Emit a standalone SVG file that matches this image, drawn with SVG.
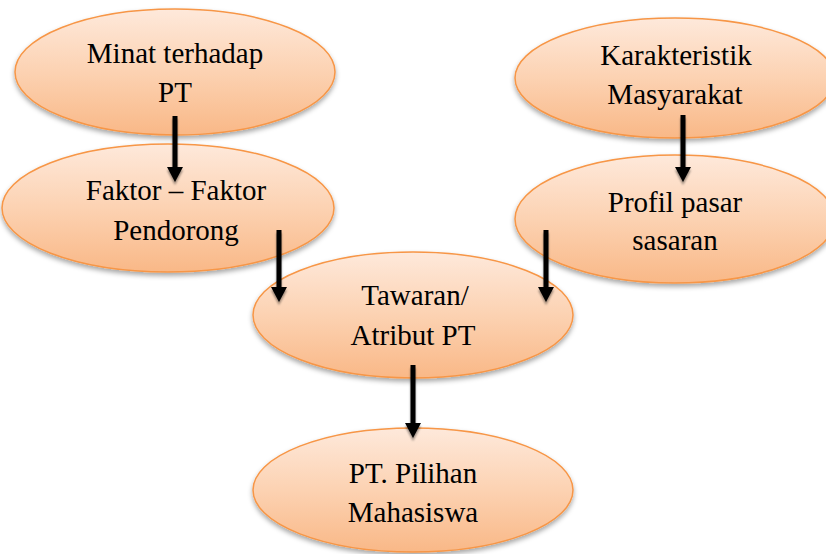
<svg xmlns="http://www.w3.org/2000/svg" width="826" height="554" viewBox="0 0 826 554">
<defs>
<linearGradient id="g" x1="0" y1="0" x2="0" y2="1">
<stop offset="0" stop-color="#fee9db"/>
<stop offset="0.5" stop-color="#fcd2b2"/>
<stop offset="1" stop-color="#f9b887"/>
</linearGradient>
<filter id="sh" x="-10%" y="-10%" width="120%" height="130%">
<feDropShadow dx="0" dy="3" stdDeviation="2.5" flood-color="#000" flood-opacity="0.35"/>
</filter>
<filter id="ash" x="-50%" y="-10%" width="200%" height="130%">
<feDropShadow dx="0" dy="3" stdDeviation="1.2" flood-color="#000" flood-opacity="0.4"/>
</filter>
<marker id="ah" viewBox="0 0 15 16" refX="0" refY="8" markerWidth="15" markerHeight="16" markerUnits="userSpaceOnUse" orient="auto">
<path d="M0,0 L15,8 L0,16 z" fill="#000"/>
</marker>
</defs>
<style>
.n ellipse{fill:url(#g);stroke:#f79646;stroke-width:1.5;filter:url(#sh)}
.n text{font-size:29px;fill:#000;text-anchor:middle}
.c line{stroke:#000;stroke-width:5;marker-end:url(#ah)}
</style>
<rect width="826" height="554" fill="#fff"/>
<g font-family="'Liberation Serif', 'Times New Roman', serif">
<g id="n5" class="n"><ellipse cx="413" cy="315" rx="160" ry="63"/><text x="415" y="305">Tawaran/</text><text x="413" y="345">Atribut PT</text></g>
<g id="n6" class="n"><ellipse cx="413" cy="490" rx="160" ry="62"/><text x="413" y="483">PT. Pilihan</text><text x="413" y="522">Mahasiswa</text></g>
<g id="n1" class="n"><ellipse cx="175" cy="72" rx="160" ry="63"/><text x="175" y="63">Minat terhadap</text><text x="175" y="102">PT</text></g>
<g id="n2" class="n"><ellipse cx="168" cy="208" rx="166" ry="64"/><text x="176" y="200">Faktor – Faktor</text><text x="176" y="240">Pendorong</text></g>
<g id="n3" class="n"><ellipse cx="675" cy="78" rx="160" ry="60"/><text x="676" y="65">Karakteristik</text><text x="675" y="104">Masyarakat</text></g>
<g id="n4" class="n"><ellipse cx="675" cy="219" rx="160" ry="64"/><text x="675" y="212">Profil pasar</text><text x="675" y="250">sasaran</text></g>
</g>
<g id="connectors" class="c" filter="url(#ash)">
<line x1="175" y1="116" x2="175" y2="167"/>
<line x1="683" y1="115" x2="683" y2="167"/>
<line x1="279" y1="230" x2="279" y2="287"/>
<line x1="546" y1="230" x2="546" y2="287"/>
<line x1="413" y1="365" x2="413" y2="423"/>
</g>
</svg>
